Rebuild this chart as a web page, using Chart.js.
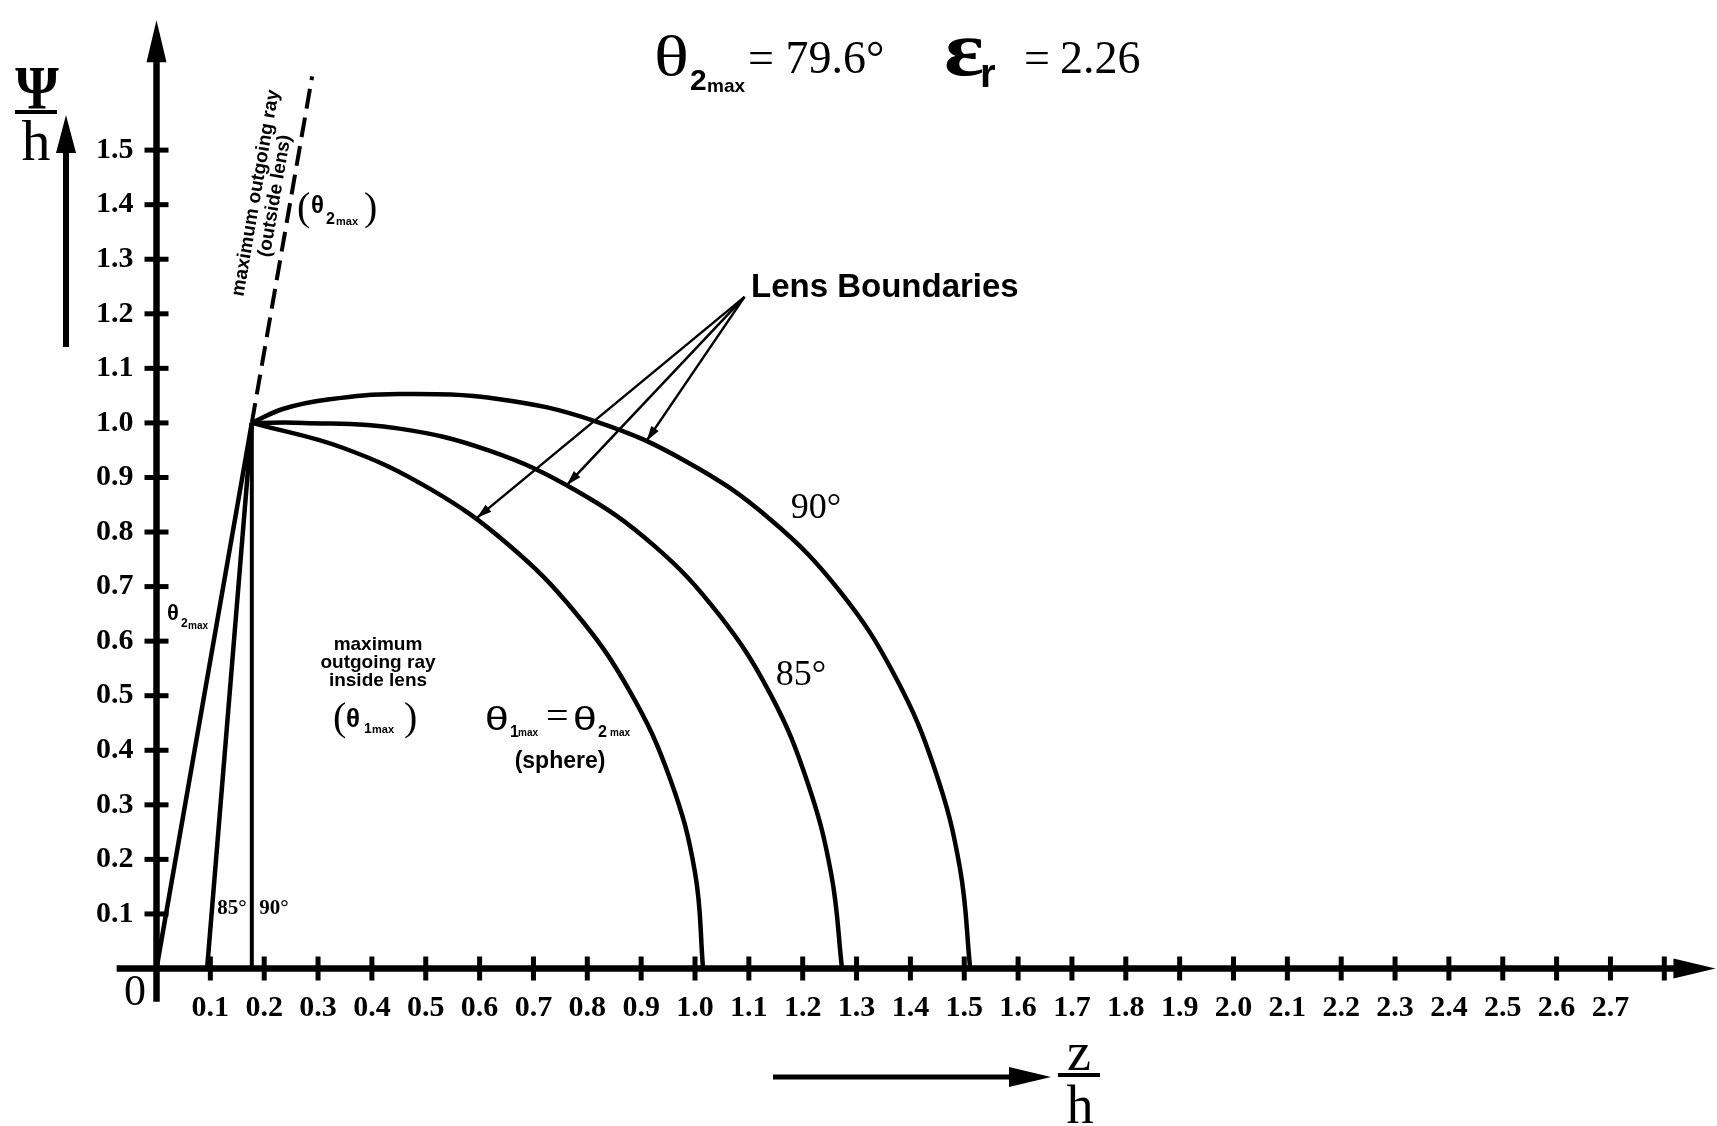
<!DOCTYPE html>
<html>
<head>
<meta charset="utf-8">
<script src="https://cdn.jsdelivr.net/npm/chart.js@4.4.1/dist/chart.umd.min.js"></script>
<style>
  html, body { margin: 0; padding: 0; background: #fff; }
  canvas { display: block; }
</style>
</head>
<body>
<canvas id="lensChart" width="1717" height="1126"></canvas>
<script>
// tick labels on both axes
const xTickLabels = ['0.1', '0.2', '0.3', '0.4', '0.5', '0.6', '0.7', '0.8', '0.9', '1.0',
  '1.1', '1.2', '1.3', '1.4', '1.5', '1.6', '1.7', '1.8', '1.9', '2.0',
  '2.1', '2.2', '2.3', '2.4', '2.5', '2.6', '2.7'];
const yTickLabels = ['0.1', '0.2', '0.3', '0.4', '0.5', '0.6', '0.7', '0.8',
  '0.9', '1.0', '1.1', '1.2', '1.3', '1.4', '1.5'];

// rays meeting at the lens apex
const rayOuterZ = [0, 0.177];
const rayOuterY = [0, 1.0];
const ray85Z = [0.094, 0.177];
const ray85Y = [0, 1.0];
const ray90Z = [0.177, 0.177];
const ray90Y = [0, 1.0];
const rayOutsideZ = [0.177, 0.289];
const rayOutsideY = [1.0, 1.635];

// lens boundaries
const sphereZ = [0.177, 0.347, 0.508, 0.652, 0.778, 0.879, 0.954, 1.000, 1.015];
const sphereY = [1.000, 0.954, 0.879, 0.778, 0.652, 0.508, 0.347, 0.176, 0];
const lens85Z = [0.177, 0.273, 0.448, 0.618, 0.779, 0.924, 1.045, 1.141, 1.209, 1.253, 1.273];
const lens85Y = [1.000, 1.000, 0.990, 0.949, 0.876, 0.775, 0.648, 0.501, 0.341, 0.173, 0];
const lens90Z = [0.177, 0.236, 0.318, 0.450, 0.634, 0.815, 0.986, 1.140, 1.271, 1.373, 1.446, 1.492, 1.511];
const lens90Y = [1.000, 1.026, 1.043, 1.053, 1.044, 1.003, 0.928, 0.823, 0.689, 0.533, 0.363, 0.184, 0];

// pointers from the "Lens Boundaries" label
const pointerStart = [1.092, 1.231];
const pointerZ = [0.595, 0.762, 0.910];
const pointerY = [0.826, 0.886, 0.967];

const pts = (zs, ys) => zs.map((z, i) => ({ x: z, y: ys[i] }));

function line(zs, ys, width, extra) {
  return Object.assign({
    data: pts(zs, ys),
    showLine: true,
    borderColor: '#000',
    backgroundColor: '#000',
    borderWidth: width,
    pointRadius: 0,
    fill: false,
    clip: false
  }, extra || {});
}

const curve = { tension: 0.4, capBezierPoints: false };

const datasets = [
  line(rayOuterZ, rayOuterY, 4.5),
  line(ray85Z, ray85Y, 4.5),
  line(ray90Z, ray90Y, 4),
  line(rayOutsideZ, rayOutsideY, 4, { borderDash: [20, 9] }),
  line(sphereZ, sphereY, 4.5, curve),
  line(lens85Z, lens85Y, 4.5, curve),
  line(lens90Z, lens90Y, 4.5, curve)
];
pointerZ.forEach((z, i) => {
  datasets.push(line([pointerStart[0], z], [pointerStart[1], pointerY[i]], 2.5));
});

function put(ctx, s, x, y, font, align, base, sx) {
  ctx.save();
  ctx.translate(x, y);
  if (sx) ctx.scale(sx, 1);
  ctx.font = font;
  ctx.textAlign = align || 'left';
  ctx.textBaseline = base || 'alphabetic';
  ctx.fillText(s, 0, 0);
  ctx.restore();
}

function tri(ctx, tx, ty, ang, len, half) {
  const c = Math.cos(ang), s = Math.sin(ang);
  ctx.beginPath();
  ctx.moveTo(tx, ty);
  ctx.lineTo(tx - len * c - half * s, ty - len * s + half * c);
  ctx.lineTo(tx - len * c + half * s, ty - len * s - half * c);
  ctx.closePath();
  ctx.fill();
}

// the scales take no room in the layout; give the labels room to draw afterwards
const roomPlugin = {
  id: 'room',
  afterLayout(chart) {
    chart.scales.x.bottom = chart.height;
    chart.scales.y.left = 0;
  }
};

const axesPlugin = {
  id: 'axes',
  afterDatasetsDraw(chart) {
    const { ctx, scales: { x, y } } = chart;
    const x0 = x.getPixelForValue(0), y0 = y.getPixelForValue(0);
    ctx.save();
    ctx.strokeStyle = '#000';
    ctx.fillStyle = '#000';
    ctx.lineWidth = 6.5;
    ctx.beginPath();
    ctx.moveTo(x.getPixelForValue(-0.074), y0);
    ctx.lineTo(x.getPixelForValue(2.83), y0);
    ctx.stroke();
    tri(ctx, x.getPixelForValue(2.895), y0, 0, 42, 10);
    ctx.beginPath();
    ctx.moveTo(x0, y.getPixelForValue(-0.061));
    ctx.lineTo(x0, y.getPixelForValue(1.68));
    ctx.stroke();
    tri(ctx, x0, y.getPixelForValue(1.738), -Math.PI / 2, 42, 10);

    ctx.lineWidth = 5;
    x.ticks.forEach(t => {
      if (t.value < 0.05) return;
      const px = x.getPixelForValue(t.value);
      ctx.beginPath(); ctx.moveTo(px, y0 - 12); ctx.lineTo(px, y0 + 12); ctx.stroke();
    });
    y.ticks.forEach(t => {
      if (t.value < 0.05 || t.value > 1.55) return;
      const py = y.getPixelForValue(t.value);
      ctx.beginPath(); ctx.moveTo(x0 - 12, py); ctx.lineTo(x0 + 12, py); ctx.stroke();
    });

    // arrowheads on the pointers
    const sx = x.getPixelForValue(pointerStart[0]), sy = y.getPixelForValue(pointerStart[1]);
    pointerZ.forEach((z, i) => {
      const tx = x.getPixelForValue(z), ty = y.getPixelForValue(pointerY[i]);
      tri(ctx, tx, ty, Math.atan2(ty - sy, tx - sx), 15, 4.5);
    });
    ctx.restore();
  }
};

const notesPlugin = {
  id: 'notes',
  afterDraw(chart) {
    const ctx = chart.ctx;
    const serif = '"Liberation Serif", "Times New Roman", serif';
    const sans = '"Liberation Sans", Arial, sans-serif';
    ctx.save();
    ctx.fillStyle = '#000';
    ctx.strokeStyle = '#000';

    // header
    put(ctx, 'θ', 654, 75, '56px ' + serif, 'left', 'alphabetic', 1.3);
    put(ctx, '2', 690, 90, 'bold 30px ' + sans);
    put(ctx, 'max', 707, 92, 'bold 19px ' + sans);
    put(ctx, '= 79.6°', 748, 73, '46px ' + serif);
    put(ctx, 'ε', 944, 75, 'bold 78px ' + serif, 'left', 'alphabetic', 1.2);
    put(ctx, 'r', 980, 87, 'bold 40px ' + sans);
    put(ctx, '=', 1024, 73, '46px ' + serif);
    put(ctx, '2.26', 1060, 73, '46px ' + serif);

    // vertical axis title
    put(ctx, 'Ψ', 37, 108, 'bold 62px ' + serif, 'center', 'alphabetic', 0.9);
    ctx.fillRect(15, 110, 42, 4);
    put(ctx, 'h', 36, 160, '58px ' + serif, 'center');
    ctx.lineWidth = 6;
    ctx.beginPath(); ctx.moveTo(66, 347); ctx.lineTo(66, 145); ctx.stroke();
    tri(ctx, 66, 115, -Math.PI / 2, 38, 10);

    // horizontal axis title
    ctx.lineWidth = 5;
    ctx.beginPath(); ctx.moveTo(773, 1077); ctx.lineTo(1015, 1077); ctx.stroke();
    tri(ctx, 1051, 1077, 0, 42, 10);
    put(ctx, 'z', 1079, 1070, '54px ' + serif, 'center');
    ctx.fillRect(1058, 1073, 42, 4);
    put(ctx, 'h', 1080, 1123, '54px ' + serif, 'center');

    put(ctx, '0', 135, 1005, '44px ' + serif, 'center');

    // along the dashed ray
    const ang = -80.2 * Math.PI / 180;
    [['maximum outgoing ray', 256, 193], ['(outside lens)', 275, 196]].forEach(([s, cx, cy]) => {
      ctx.save();
      ctx.translate(cx, cy);
      ctx.rotate(ang);
      put(ctx, s, 0, 0, 'bold 19px ' + sans, 'center', 'middle');
      ctx.restore();
    });
    put(ctx, '(', 297, 220, '40px ' + serif);
    put(ctx, 'θ', 311, 213, 'bold 24px ' + sans);
    put(ctx, '2', 326, 224, 'bold 16px ' + sans);
    put(ctx, 'max', 336, 225, 'bold 11px ' + sans);
    put(ctx, ')', 364, 220, '40px ' + serif);

    // small label on the outer ray
    put(ctx, 'θ', 167, 620, 'bold 22px ' + sans);
    put(ctx, '2', 181, 627, 'bold 12px ' + sans);
    put(ctx, 'max', 188, 629, 'bold 10px ' + sans);

    // inside lens note
    put(ctx, 'maximum', 378, 645, 'bold 19px ' + sans, 'center', 'middle');
    put(ctx, 'outgoing ray', 378, 663, 'bold 19px ' + sans, 'center', 'middle');
    put(ctx, 'inside lens', 378, 681, 'bold 19px ' + sans, 'center', 'middle');
    put(ctx, '(', 333, 730, '40px ' + serif);
    put(ctx, 'θ', 346, 727, 'bold 26px ' + sans);
    put(ctx, '1', 364, 733, 'bold 14px ' + sans);
    put(ctx, 'max', 372, 733, 'bold 11px ' + sans);
    put(ctx, ')', 404, 730, '40px ' + serif);

    // sphere note
    put(ctx, 'θ', 485, 730, '34px ' + sans, 'left', 'alphabetic', 1.25);
    put(ctx, '1', 510, 737, 'bold 16px ' + sans);
    put(ctx, 'max', 518, 736, 'bold 10px ' + sans);
    put(ctx, '=', 546, 729, '40px ' + serif);
    put(ctx, 'θ', 573, 730, '34px ' + sans, 'left', 'alphabetic', 1.25);
    put(ctx, '2', 598, 737, 'bold 16px ' + sans);
    put(ctx, 'max', 610, 736, 'bold 10px ' + sans);
    put(ctx, '(sphere)', 560, 762, 'bold 23px ' + sans, 'center', 'middle');

    put(ctx, 'Lens Boundaries', 751, 288, 'bold 33px ' + sans, 'left', 'middle');

    put(ctx, '90°', 816, 518, '36px ' + serif, 'center');
    put(ctx, '85°', 801, 685, '36px ' + serif, 'center');
    put(ctx, '85°', 232, 914, 'bold 21px ' + serif, 'center');
    put(ctx, '90°', 274, 914, 'bold 21px ' + serif, 'center');
    ctx.restore();
  }
};

const tickFont = { family: '"Liberation Serif", "Times New Roman", serif', size: 30, weight: 'bold' };

new Chart(document.getElementById('lensChart').getContext('2d'), {
  type: 'scatter',
  data: { datasets },
  options: {
    responsive: false,
    animation: false,
    events: [],
    layout: { padding: { left: 156.5, right: 52.7, top: 28.4, bottom: 157.5 } },
    plugins: { legend: { display: false }, tooltip: { enabled: false } },
    scales: {
      x: {
        type: 'linear',
        min: 0,
        max: 2.8,
        afterFit: s => { s.height = 0; },
        grid: { display: false, drawTicks: false },
        border: { display: false },
        ticks: {
          stepSize: 0.1,
          autoSkip: false,
          maxRotation: 0,
          padding: 22,
          color: '#000',
          font: tickFont,
          callback: v => { const s = Number(v).toFixed(1); return xTickLabels.includes(s) ? s : ''; }
        }
      },
      y: {
        type: 'linear',
        min: 0,
        max: 1.7,
        afterFit: s => { s.width = 0; },
        grid: { display: false, drawTicks: false },
        border: { display: false },
        ticks: {
          stepSize: 0.1,
          autoSkip: false,
          padding: 23,
          color: '#000',
          font: tickFont,
          callback: v => { const s = Number(v).toFixed(1); return yTickLabels.includes(s) ? s : ''; }
        }
      }
    }
  },
  plugins: [roomPlugin, axesPlugin, notesPlugin]
});
</script>
</body>
</html>
